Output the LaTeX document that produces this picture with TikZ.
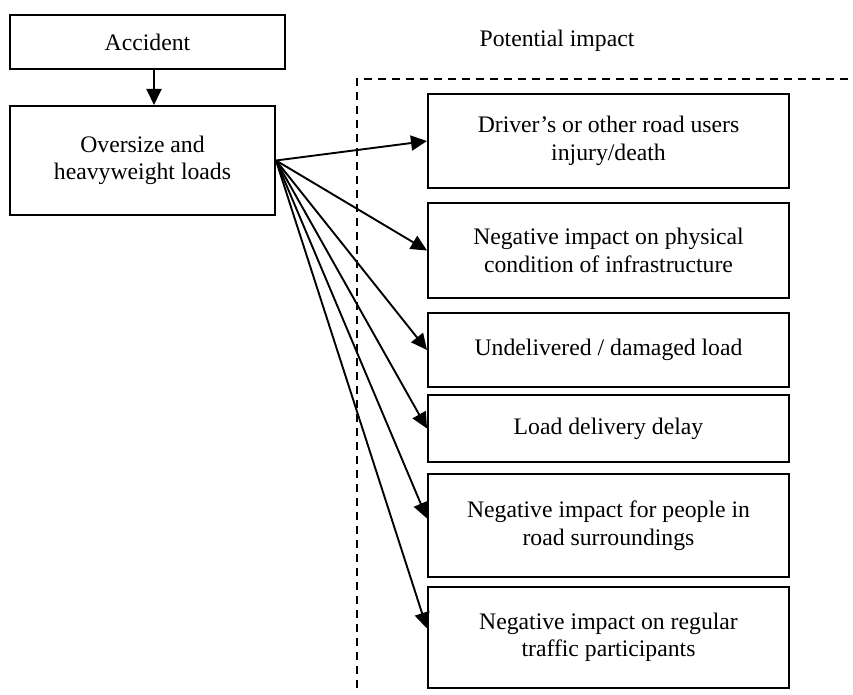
\documentclass[tikz,border=0pt]{standalone}
\usepackage{fontspec}
\setmainfont{Liberation Serif}
\usetikzlibrary{arrows.meta,calc}
\tikzset{
  box/.style={draw, line width=2pt, inner sep=0pt, align=center, font=\fontsize{23.7}{27.5}\selectfont},
  arr/.style={line width=1.9pt, -{Triangle[length=16pt,width=15pt]}},
  lbl/.style={inner sep=0pt, font=\fontsize{23.7}{27.5}\selectfont},
  frame/.style={line width=2pt, dash pattern=on 8pt off 6pt}
}
\begin{document}
\begin{tikzpicture}[x=1pt,y=-1pt]
\useasboundingbox (0,0) rectangle (853,695);
\node[box, minimum width=275pt, minimum height=54pt] (acc) at (147.5,42) {Accident};
\node[box, minimum width=265pt, minimum height=109pt] (over) at (142.5,160.5) {Oversize and\\heavyweight loads};
\node[lbl] (pot) at (557,41) {Potential impact};
\draw[frame] (357,688) -- (357,79) -- (853,79);
\node[box, minimum width=361pt, minimum height=94pt] (b1) at (608.5,141) {Driver’s or other road users\\injury/death};
\node[box, minimum width=361pt, minimum height=95pt] (b2) at (608.5,250.5) {Negative impact on physical\\condition of infrastructure};
\node[box, minimum width=361pt, minimum height=74pt] (b3) at (608.5,350) {Undelivered / damaged load};
\node[box, minimum width=361pt, minimum height=67pt] (b4) at (608.5,428.5) {Load delivery delay};
\node[box, minimum width=361pt, minimum height=103pt] (b5) at (608.5,525.5) {Negative impact for people in\\road surroundings};
\node[box, minimum width=361pt, minimum height=101pt] (b6) at (608.5,637.5) {Negative impact on regular\\traffic participants};
\draw[arr] ([xshift=6.5pt]acc.south) -- ([xshift=6.5pt]acc.south |- over.north);
\draw[arr] (over.east) -- (b1.west);
\draw[arr] (over.east) -- (b2.west);
\draw[arr] (over.east) -- (b3.west);
\draw[arr] (over.east) -- (b4.west);
\draw[arr] (over.east) -- ([yshift=7pt]b5.west);
\draw[arr] (over.east) -- ([yshift=9pt]b6.west);
\end{tikzpicture}
\end{document}
